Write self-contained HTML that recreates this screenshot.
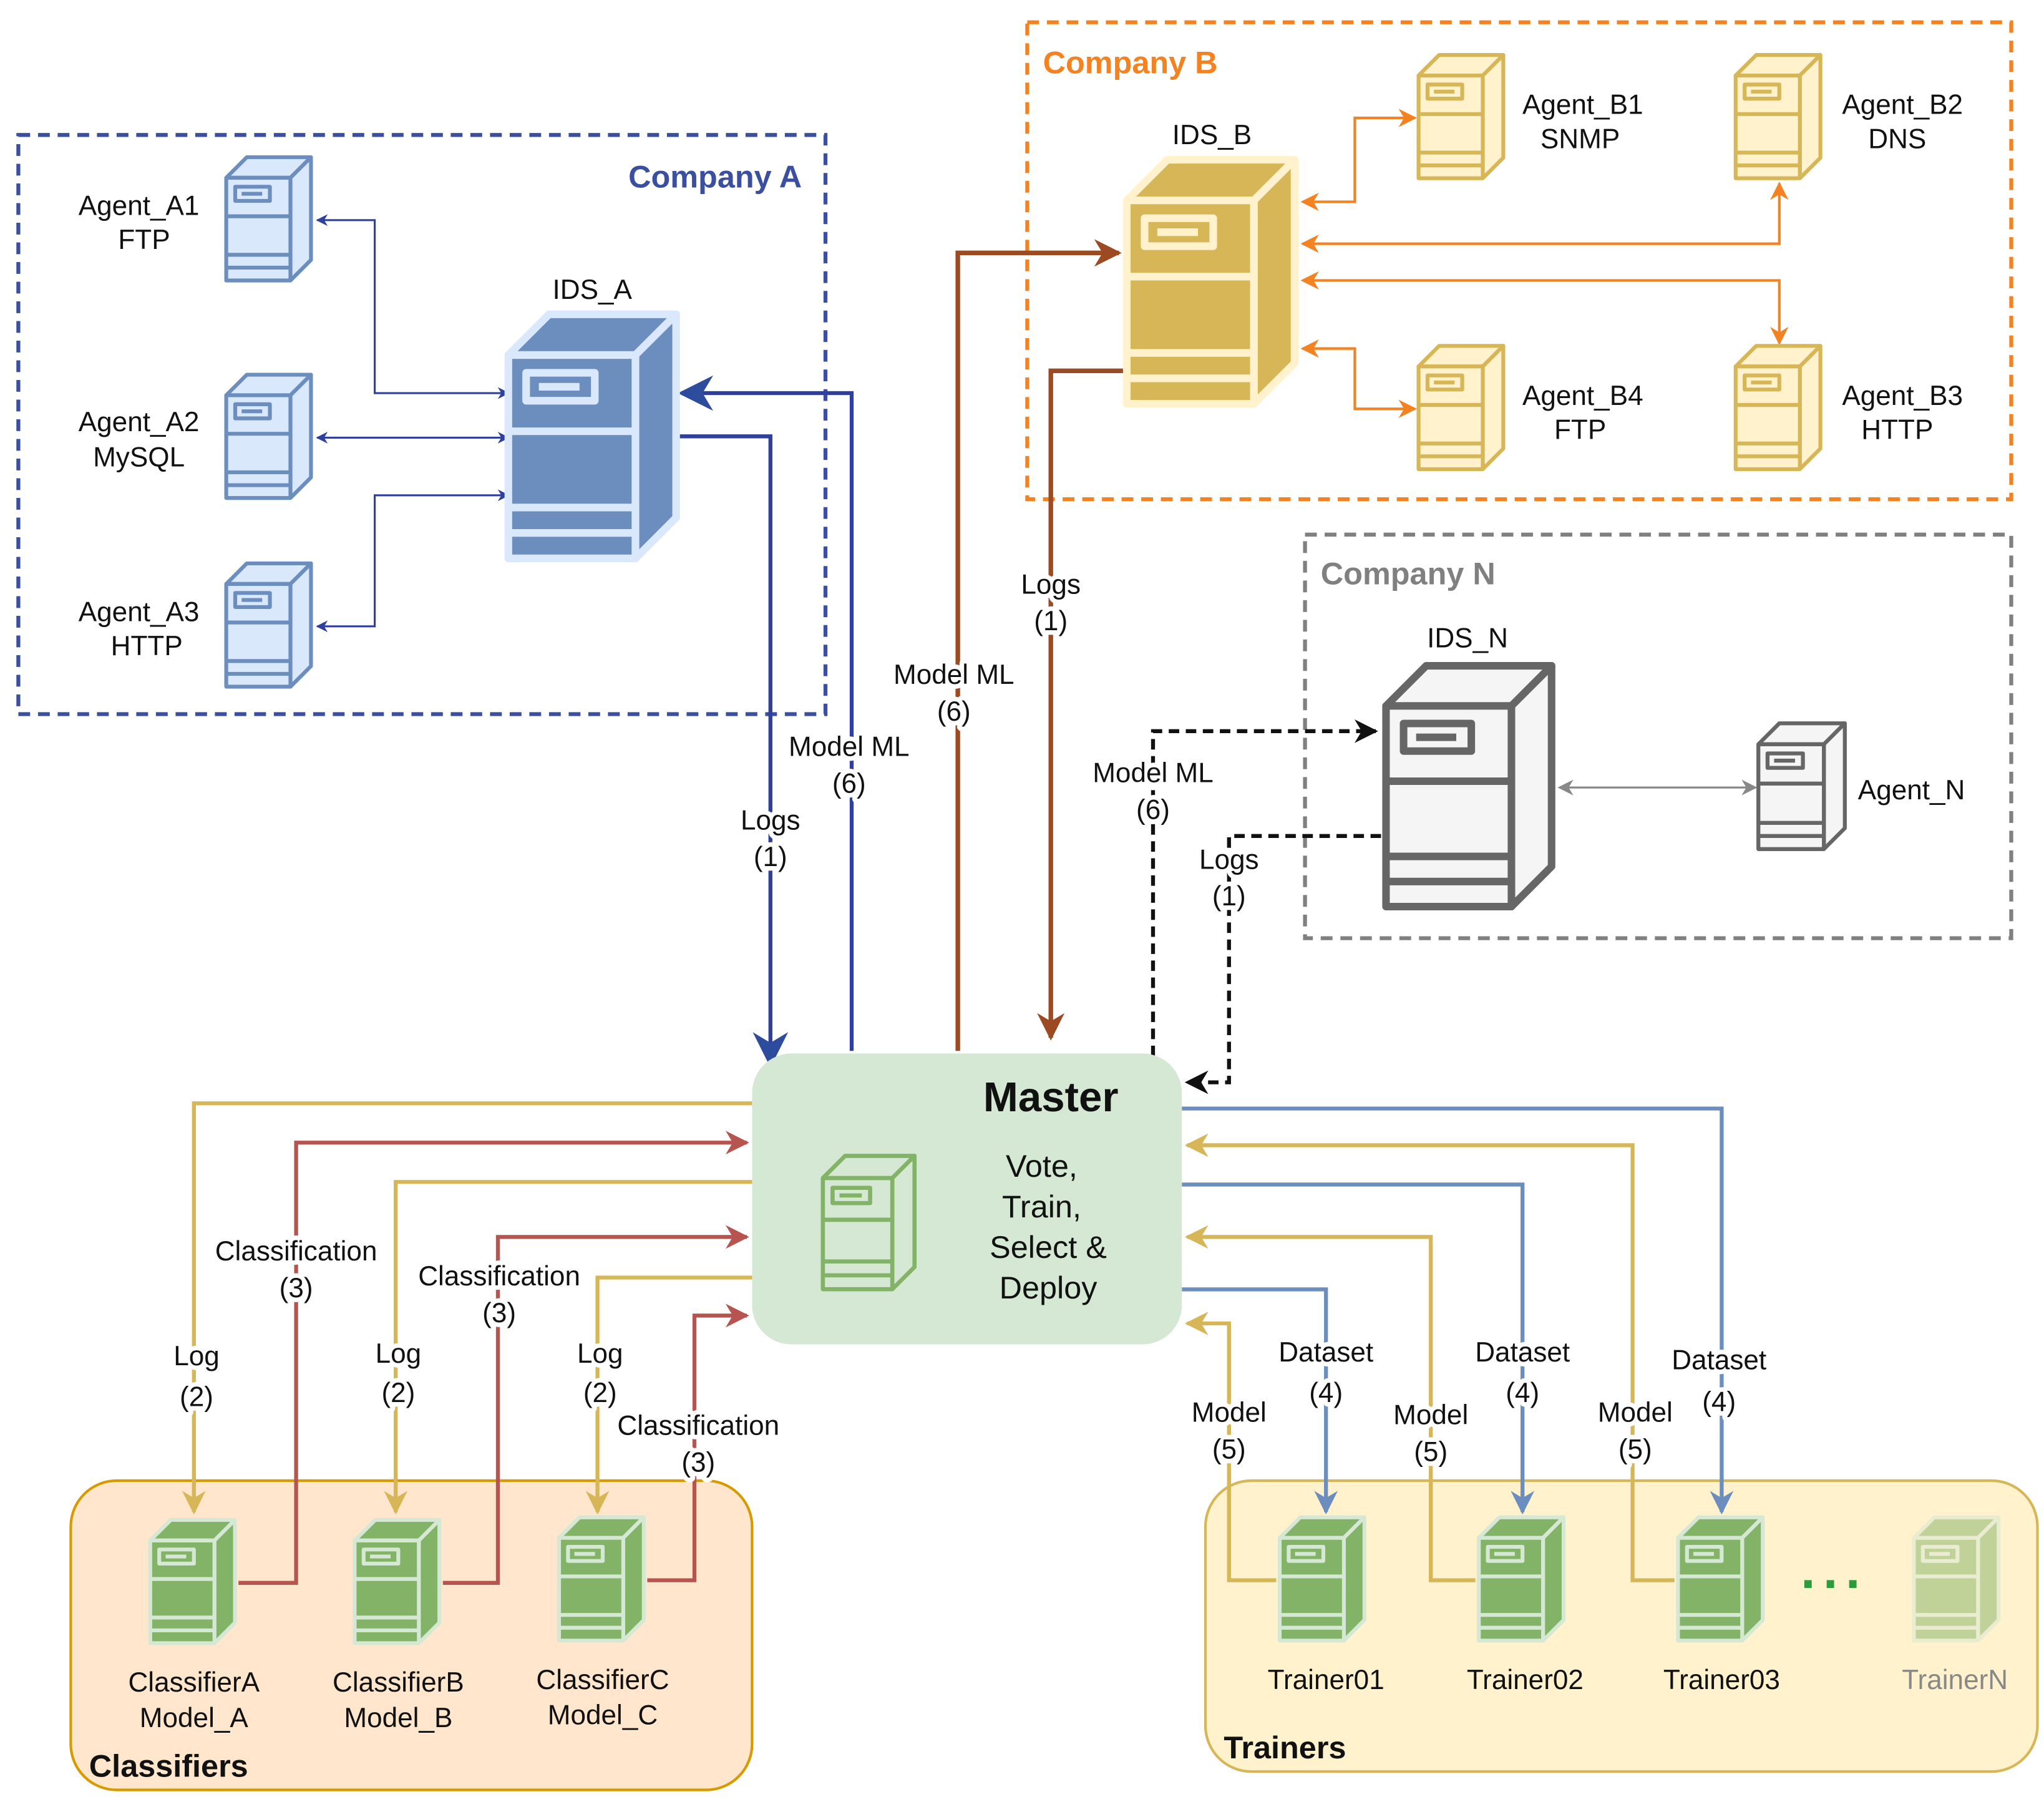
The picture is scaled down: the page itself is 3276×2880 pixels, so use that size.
<!DOCTYPE html>
<html><head><meta charset="utf-8"><style>
html,body{margin:0;padding:0;background:#fff}
svg{display:block}
text{font-family:"Liberation Sans",sans-serif;font-size:21px;fill:#111}
.lb{paint-order:stroke;stroke:#fff;stroke-width:7px;stroke-linejoin:round;text-anchor:middle}
.c{text-anchor:middle}
</style></head><body>
<svg width="3276" height="2880" viewBox="0 0 1560 1371.4" xmlns="http://www.w3.org/2000/svg">
<defs>
<symbol id="srv" viewBox="0 0 70 100" overflow="visible">
<g stroke="var(--s)" stroke-width="3" stroke-linejoin="round">
<polygon points="2,18 18,2 68,2 52,18" fill="var(--f)"/>
<polygon points="52,18 68,2 68,82 52,98" fill="var(--f)"/>
<rect x="2" y="18" width="50" height="80" fill="var(--f)"/>
<rect x="9" y="25" width="27" height="11" fill="none"/>
<line x1="14" y1="30.5" x2="30" y2="30.5"/>
<line x1="2" y1="48" x2="52" y2="48"/>
<line x1="2" y1="78" x2="52" y2="78"/>
<line x1="2" y1="88" x2="52" y2="88"/>
</g>
</symbol>
<marker id="mb" viewBox="0 0 10 10" refX="9" refY="5" markerWidth="6" markerHeight="6" orient="auto-start-reverse"><path d="M0,0 L10,5 L0,10 L3,5z" fill="#2e3f9e"/></marker>
<marker id="mbt" viewBox="0 0 10 10" refX="9" refY="5" markerWidth="9" markerHeight="9" orient="auto-start-reverse"><path d="M0,0 L10,5 L0,10 L3,5z" fill="#2e4c9e"/></marker>
<marker id="mbr" viewBox="0 0 10 10" refX="9" refY="5" markerWidth="6" markerHeight="6" orient="auto-start-reverse"><path d="M0,0 L10,5 L0,10 L3,5z" fill="#9c4a22"/></marker>
<marker id="mo" viewBox="0 0 10 10" refX="9" refY="5" markerWidth="7" markerHeight="7" orient="auto-start-reverse"><path d="M0,0 L10,5 L0,10 L3,5z" fill="#f58220"/></marker>
<marker id="mk" viewBox="0 0 10 10" refX="9" refY="5" markerWidth="6" markerHeight="6" orient="auto-start-reverse"><path d="M0,0 L10,5 L0,10 L3,5z" fill="#111"/></marker>
<marker id="mg" viewBox="0 0 10 10" refX="9" refY="5" markerWidth="8" markerHeight="8" orient="auto-start-reverse"><path d="M0,0 L10,5 L0,10 L3,5z" fill="#888"/></marker>
<marker id="my" viewBox="0 0 10 10" refX="9" refY="5" markerWidth="6" markerHeight="6" orient="auto-start-reverse"><path d="M0,0 L10,5 L0,10 L3,5z" fill="#d6b656"/></marker>
<marker id="mr" viewBox="0 0 10 10" refX="9" refY="5" markerWidth="6" markerHeight="6" orient="auto-start-reverse"><path d="M0,0 L10,5 L0,10 L3,5z" fill="#b85450"/></marker>
<marker id="ml" viewBox="0 0 10 10" refX="9" refY="5" markerWidth="6" markerHeight="6" orient="auto-start-reverse"><path d="M0,0 L10,5 L0,10 L3,5z" fill="#6c8ebf"/></marker>
</defs>

<rect x="14" y="103" width="616" height="442" fill="none" stroke="#3a4fa0" stroke-width="3" stroke-dasharray="9,6"/>
<rect x="784" y="17" width="751" height="364" fill="none" stroke="#f58220" stroke-width="3" stroke-dasharray="9,6"/>
<rect x="996" y="408" width="539" height="308" fill="none" stroke="#808080" stroke-width="3" stroke-dasharray="9,6"/>
<rect x="54" y="1130" width="520" height="236" rx="35" fill="#ffe6cc" stroke="#d79b00" stroke-width="2"/>
<rect x="920" y="1130" width="635" height="222" rx="35" fill="#fff2cc" stroke="#d6b656" stroke-width="2"/>

<text x="612" y="143" style="font-size:24px;font-weight:bold;fill:#3a4fa0;text-anchor:end">Company A</text>
<text x="796" y="56" style="font-size:24px;font-weight:bold;fill:#f58220">Company B</text>
<text x="1008" y="446" style="font-size:24px;font-weight:bold;fill:#808080">Company N</text>
<text x="68" y="1356" style="font-size:24px;font-weight:bold">Classifiers</text>
<text x="934" y="1342" style="font-size:24px;font-weight:bold">Trainers</text>

<g fill="none" stroke="#2e3f9e" stroke-width="1.5">
<polyline points="388,300 286,300 286,168 242,168" marker-start="url(#mb)" marker-end="url(#mb)"/>
<polyline points="242,334 388,334" marker-start="url(#mb)" marker-end="url(#mb)"/>
<polyline points="242,478 286,478 286,378 388,378" marker-start="url(#mb)" marker-end="url(#mb)"/>
</g>
<g fill="none" stroke="#2e3f9e" stroke-width="3">
<polyline points="518,333 588,333 588,812" marker-end="url(#mbt)"/>
<polyline points="650,802 650,300 520,300" marker-end="url(#mbt)"/>
</g>
<g fill="none" stroke="#9c4a22" stroke-width="3.5">
<polyline points="731,802 731,193 854,193" marker-end="url(#mbr)"/>
<polyline points="858,283 802,283 802,792" marker-end="url(#mbr)"/>
</g>
<g fill="none" stroke="#f58220" stroke-width="2">
<polyline points="994,154 1034,154 1034,90 1080,90" marker-start="url(#mo)" marker-end="url(#mo)"/>
<polyline points="994,186 1358,186 1358,140" marker-start="url(#mo)" marker-end="url(#mo)"/>
<polyline points="994,214 1358,214 1358,262" marker-start="url(#mo)" marker-end="url(#mo)"/>
<polyline points="994,266 1034,266 1034,312 1080,312" marker-start="url(#mo)" marker-end="url(#mo)"/>
</g>
<g fill="none" stroke="#111" stroke-width="3" stroke-dasharray="8,5">
<polyline points="880,806 880,558 1050,558" marker-end="url(#mk)"/>
<polyline points="1054,638 938,638 938,826 906,826" marker-end="url(#mk)"/>
</g>
<line x1="1190" y1="601" x2="1340" y2="601" stroke="#888" stroke-width="1.5" marker-start="url(#mg)" marker-end="url(#mg)"/>

<g fill="none" stroke-width="3">
<polyline stroke="#d6b656" points="574,842 148,842 148,1154" marker-end="url(#my)"/>
<polyline stroke="#b85450" points="182,1208 226,1208 226,872 570,872" marker-end="url(#mr)"/>
<polyline stroke="#d6b656" points="574,902 302,902 302,1154" marker-end="url(#my)"/>
<polyline stroke="#b85450" points="338,1208 380,1208 380,944 570,944" marker-end="url(#mr)"/>
<polyline stroke="#d6b656" points="574,975 456,975 456,1154" marker-end="url(#my)"/>
<polyline stroke="#b85450" points="494,1206 530,1206 530,1004 570,1004" marker-end="url(#mr)"/>
<polyline stroke="#6c8ebf" points="902,984 1012,984 1012,1154" marker-end="url(#ml)"/>
<polyline stroke="#d6b656" points="974,1206 938,1206 938,1010 906,1010" marker-end="url(#my)"/>
<polyline stroke="#6c8ebf" points="902,904 1162,904 1162,1154" marker-end="url(#ml)"/>
<polyline stroke="#d6b656" points="1126,1206 1092,1206 1092,944 906,944" marker-end="url(#my)"/>
<polyline stroke="#6c8ebf" points="902,846 1314,846 1314,1154" marker-end="url(#ml)"/>
<polyline stroke="#d6b656" points="1278,1206 1246,1206 1246,874 906,874" marker-end="url(#my)"/>
</g>

<rect x="574" y="804" width="328" height="222" rx="30" fill="#d5e8d4"/>
<text x="802" y="848" class="c" style="font-size:32px;font-weight:bold">Master</text>
<text x="795" y="898" class="c" style="font-size:24px">Vote,</text>
<text x="795" y="929" class="c" style="font-size:24px">Train,</text>
<text x="800" y="960" class="c" style="font-size:24px">Select &amp;</text>
<text x="800" y="991" class="c" style="font-size:24px">Deploy</text>
<use href="#srv" x="622" y="880" width="82" height="106" style="--f:#d5e8d4;--s:#82b366"/>

<g style="--f:#dae8fc;--s:#6c8ebf">
<use href="#srv" x="170" y="118" width="70" height="98"/>
<use href="#srv" x="170" y="284" width="70" height="98"/>
<use href="#srv" x="170" y="428" width="70" height="98"/>
</g>
<use href="#srv" x="384" y="236" width="136" height="194" style="--f:#6c8ebf;--s:#dae8fc"/>
<use href="#srv" x="856" y="118" width="136" height="194" style="--f:#d6b656;--s:#fff2cc"/>
<g style="--f:#fff2cc;--s:#d6b656">
<use href="#srv" x="1080" y="40" width="70" height="98"/>
<use href="#srv" x="1322" y="40" width="70" height="98"/>
<use href="#srv" x="1080" y="262" width="70" height="98"/>
<use href="#srv" x="1322" y="262" width="70" height="98"/>
</g>
<use href="#srv" x="1054" y="502" width="134" height="196" style="--f:#f5f5f5;--s:#666"/>
<use href="#srv" x="1340" y="550" width="70" height="100" style="--f:#f5f5f5;--s:#666"/>
<g style="--f:#82b366;--s:#d5e8d4">
<use href="#srv" x="112" y="1158" width="70" height="98"/>
<use href="#srv" x="268" y="1158" width="70" height="98"/>
<use href="#srv" x="424" y="1156" width="70" height="98"/>
<use href="#srv" x="974" y="1156" width="70" height="98"/>
<use href="#srv" x="1126" y="1156" width="70" height="98"/>
<use href="#srv" x="1278" y="1156" width="70" height="98"/>
</g>
<use href="#srv" x="1458" y="1156" width="70" height="98" style="--f:#82b366;--s:#d5e8d4;opacity:0.5"/>
<text x="1400" y="1212" class="c" style="font-size:40px;font-weight:bold;fill:#2a9d3a;letter-spacing:6px">...</text>

<text x="1418" y="610">Agent_N</text>
<g>
<text x="106" y="164" class="c">Agent_A1</text><text x="110" y="190" class="c">FTP</text>
<text x="106" y="329" class="c">Agent_A2</text><text x="106" y="356" class="c">MySQL</text>
<text x="106" y="474" class="c">Agent_A3</text><text x="112" y="500" class="c">HTTP</text>
<text x="452" y="228" class="c">IDS_A</text>
<text x="925" y="110" class="c">IDS_B</text>
<text x="1208" y="87" class="c">Agent_B1</text><text x="1206" y="113" class="c">SNMP</text>
<text x="1452" y="87" class="c">Agent_B2</text><text x="1448" y="113" class="c">DNS</text>
<text x="1208" y="309" class="c">Agent_B4</text><text x="1206" y="335" class="c">FTP</text>
<text x="1452" y="309" class="c">Agent_B3</text><text x="1448" y="335" class="c">HTTP</text>
<text x="1120" y="494" class="c">IDS_N</text>
<text x="148" y="1291" class="c">ClassifierA</text><text x="148" y="1318" class="c">Model_A</text>
<text x="304" y="1291" class="c">ClassifierB</text><text x="304" y="1318" class="c">Model_B</text>
<text x="460" y="1289" class="c">ClassifierC</text><text x="460" y="1316" class="c">Model_C</text>
<text x="1012" y="1289" class="c">Trainer01</text>
<text x="1164" y="1289" class="c">Trainer02</text>
<text x="1314" y="1289" class="c">Trainer03</text>
<text x="1492" y="1289" class="c" style="fill:#888">TrainerN</text>
</g>

<text x="588" y="633" class="lb">Logs</text><text x="588" y="661" class="lb">(1)</text>
<text x="648" y="577" class="lb">Model ML</text><text x="648" y="605" class="lb">(6)</text>
<text x="802" y="453" class="lb">Logs</text><text x="802" y="481" class="lb">(1)</text>
<text x="728" y="522" class="lb">Model ML</text><text x="728" y="550" class="lb">(6)</text>
<text x="880" y="597" class="lb">Model ML</text><text x="880" y="625" class="lb">(6)</text>
<text x="938" y="663" class="lb">Logs</text><text x="938" y="691" class="lb">(1)</text>
<text x="150" y="1042" class="lb">Log</text><text x="150" y="1073" class="lb">(2)</text>
<text x="226" y="962" class="lb">Classification</text><text x="226" y="990" class="lb">(3)</text>
<text x="304" y="1040" class="lb">Log</text><text x="304" y="1070" class="lb">(2)</text>
<text x="381" y="981" class="lb">Classification</text><text x="381" y="1009" class="lb">(3)</text>
<text x="458" y="1040" class="lb">Log</text><text x="458" y="1070" class="lb">(2)</text>
<text x="533" y="1095" class="lb">Classification</text><text x="533" y="1123" class="lb">(3)</text>
<text x="1012" y="1039" class="lb">Dataset</text><text x="1012" y="1070" class="lb">(4)</text>
<text x="938" y="1085" class="lb">Model</text><text x="938" y="1113" class="lb">(5)</text>
<text x="1162" y="1039" class="lb">Dataset</text><text x="1162" y="1070" class="lb">(4)</text>
<text x="1092" y="1087" class="lb">Model</text><text x="1092" y="1115" class="lb">(5)</text>
<text x="1312" y="1045" class="lb">Dataset</text><text x="1312" y="1077" class="lb">(4)</text>
<text x="1248" y="1085" class="lb">Model</text><text x="1248" y="1113" class="lb">(5)</text>
</svg>
</body></html>
